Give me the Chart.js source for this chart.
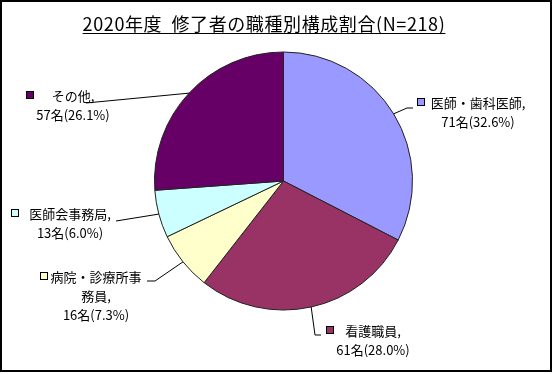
<!DOCTYPE html>
<html lang="ja">
<head>
<meta charset="utf-8">
<script src="https://cdn.jsdelivr.net/npm/chart.js@4.4.1/dist/chart.umd.min.js"></script>
<style>
  html, body { margin: 0; padding: 0; background: #fff; }
  canvas { display: block; }
</style>
</head>
<body>
<canvas id="myChart" width="554" height="374"></canvas>
<script>
/* globals Chart:false */

const titleText = "2020年度  修了者の職種別構成割合(N=218)";
const categories = ["医師・歯科医師", "看護職員", "病院・診療所事務員", "医師会事務局", "その他"];
const counts = [71, 61, 16, 13, 57];
const sliceColors = ["#9999FF", "#993366", "#FFFFCC", "#CCFFFF", "#660066"];

// where each label sits (text centre x, first line y, marker x, wrap length, leader elbow)
const labelSpots = [
  { x: 478, y: 103, mx: 421, wrap: 0, leader: [[407, 108], [413, 108]] },
  { x: 373, y: 331, mx: 330, wrap: 0, leader: [[315, 335], [321, 335]] },
  { x: 96, y: 277, mx: 44, wrap: 7, leader: [[155, 281], [147, 281]] },
  { x: 70, y: 214, mx: 15, wrap: 0, leader: [[116, 221]] },
  { x: 73, y: 96, mx: 30, wrap: 0, leader: [[86, 103]] },
];

const FONT = '"Noto Sans CJK JP", "Noto Sans", sans-serif';

(() => {
  "use strict";

  const total = counts.reduce((a, b) => a + b, 0);

  const labelPlugin = {
    id: "sliceLabels",
    beforeDraw(chart) {
      const ctx = chart.ctx;
      ctx.save();
      ctx.fillStyle = "#fff";
      ctx.fillRect(0, 0, chart.width, chart.height);
      ctx.restore();
    },
    afterDraw(chart) {
      const ctx = chart.ctx;
      const arcs = chart.getDatasetMeta(0).data;
      ctx.save();

      // title, underlined
      ctx.fillStyle = "#000";
      ctx.font = "18px " + FONT;
      ctx.letterSpacing = "0.6px";
      ctx.textAlign = "center";
      ctx.textBaseline = "middle";
      ctx.fillText(titleText, 264, 24);
      const tw = ctx.measureText(titleText).width;
      ctx.fillRect(264 - tw / 2, 33, tw, 1);
      ctx.letterSpacing = "0px";

      ctx.font = "13px " + FONT;
      ctx.strokeStyle = "#000";
      ctx.lineWidth = 1;
      arcs.forEach((arc, i) => {
        const spot = labelSpots[i];
        const mid = (arc.startAngle + arc.endAngle) / 2;
        const px = arc.x + Math.cos(mid) * arc.outerRadius;
        const py = arc.y + Math.sin(mid) * arc.outerRadius;

        ctx.beginPath();
        ctx.moveTo(px, py);
        spot.leader.forEach((p) => ctx.lineTo(p[0], p[1]));
        ctx.stroke();

        const name = categories[i] + ",";
        const lines = [];
        if (spot.wrap) {
          for (let k = 0; k < name.length; k += spot.wrap) lines.push(name.slice(k, k + spot.wrap));
        } else {
          lines.push(name);
        }
        const pct = ((counts[i] / total) * 100).toFixed(1);
        lines.push(counts[i] + "名(" + pct + "%)");

        lines.forEach((t, k) => {
          ctx.fillText(t, spot.x, spot.y + k * 19);
        });

        // legend key square
        ctx.fillStyle = sliceColors[i];
        ctx.fillRect(spot.mx - 3, spot.y - 4, 6, 6);
        ctx.strokeRect(spot.mx - 3.5, spot.y - 4.5, 7, 7);
        ctx.fillStyle = "#000";
      });

      // outer frame
      ctx.lineWidth = 2;
      ctx.strokeRect(1, 1, 550, 370);
      ctx.restore();
    },
  };

  const chartEl = document.getElementById("myChart");
  new Chart(chartEl, {
    type: "pie",
    data: {
      labels: categories,
      datasets: [
        {
          data: counts,
          backgroundColor: sliceColors,
          borderColor: "#222",
          borderWidth: 1,
        },
      ],
    },
    options: {
      responsive: false,
      animation: false,
      layout: {
        padding: { left: 154, right: 141, top: 51, bottom: 63 },
      },
      plugins: {
        legend: { display: false },
        tooltip: { enabled: false },
        title: { display: false },
      },
    },
    plugins: [labelPlugin],
  });
})();
</script>
</body>
</html>
